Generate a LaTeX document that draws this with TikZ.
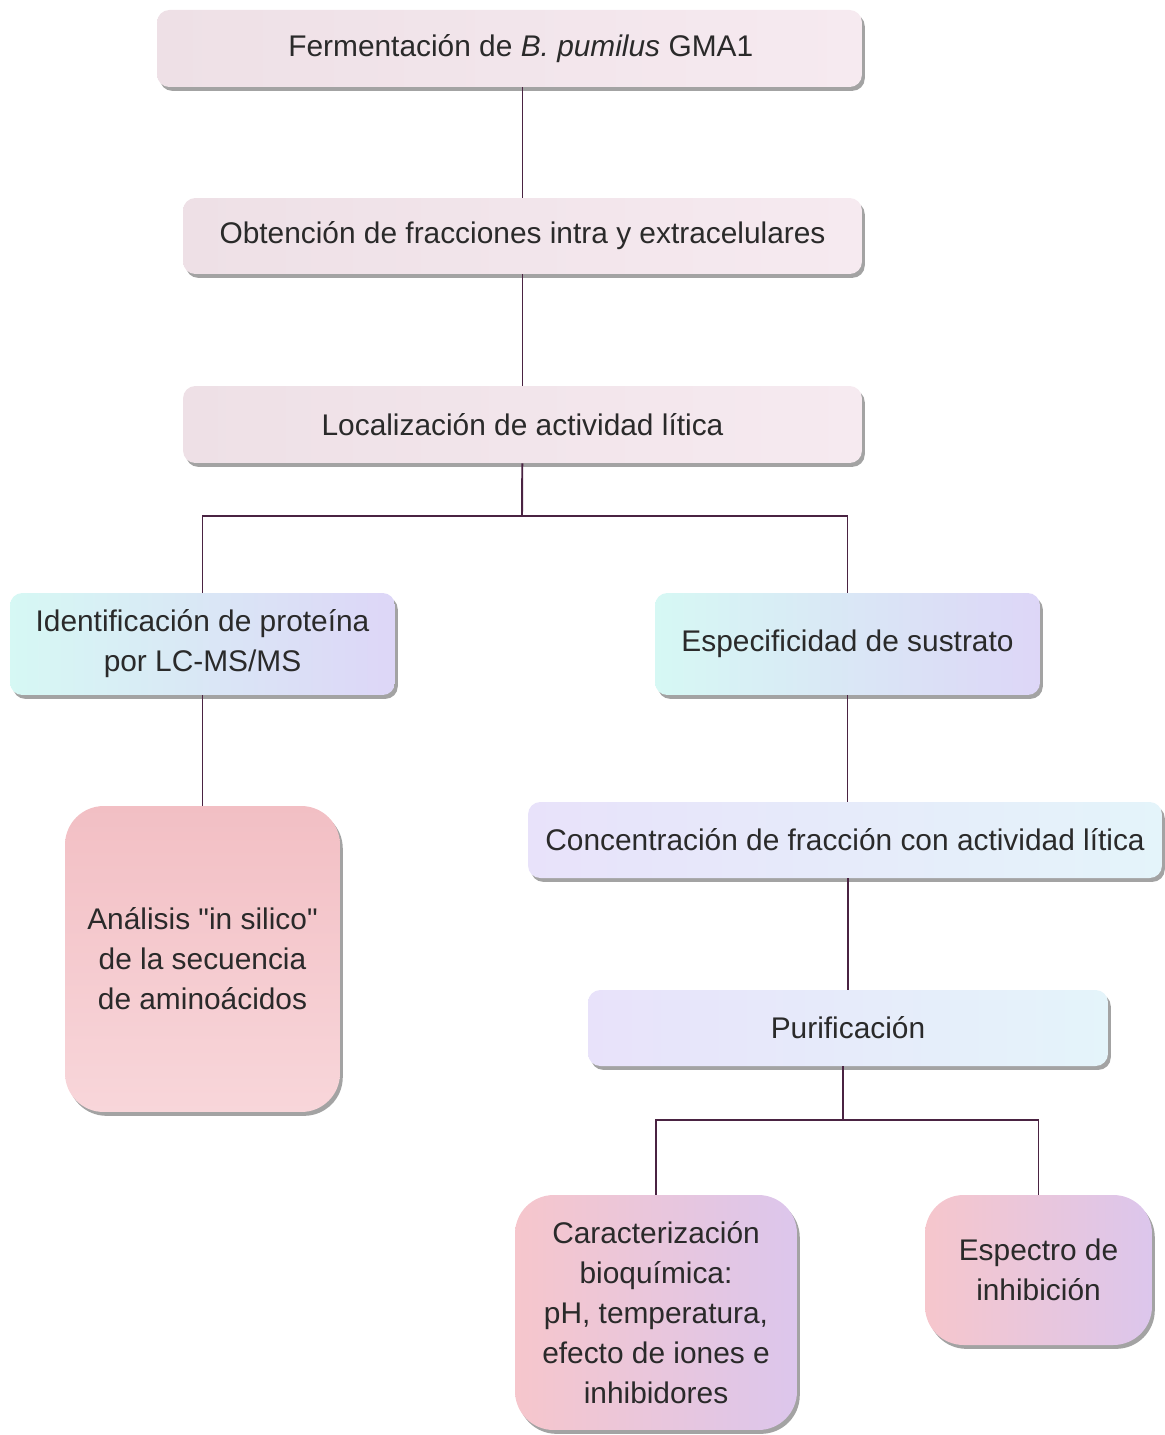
\documentclass[tikz,border=0pt]{standalone}
\usepackage{fontspec}
\setmainfont{Liberation Sans}[Ligatures=TeXOff]
\usepackage{tikz}
\usetikzlibrary{shadows}

\definecolor{txtc}{HTML}{2A2A2A}
\definecolor{linec}{HTML}{4A2342}
\definecolor{rosaA}{HTML}{EEE0E6}
\definecolor{rosaB}{HTML}{F6EAF0}
\definecolor{aqua}{HTML}{D6F8F4}
\definecolor{lila}{HTML}{DDD6F7}
\definecolor{salmon}{HTML}{F2BFC4}
\definecolor{salmonB}{HTML}{F8D6DA}
\definecolor{lilaB}{HTML}{E8E2FA}
\definecolor{pinkB}{HTML}{F7E3F3}
\definecolor{celeste}{HTML}{E4F4FA}
\definecolor{malva}{HTML}{DCC6EC}
\definecolor{rosaC}{HTML}{F6C6CC}

\begin{document}
\begin{tikzpicture}[x=0.02cm,y=-0.02cm,
    box/.style={rounded corners=7pt,align=center,text=txtc,inner sep=0pt,
      font=\fontsize{17}{22.8}\selectfont,
      drop shadow={shadow xshift=1.6pt,shadow yshift=-2.2pt,fill=black!60,opacity=0.6}},
    tall/.style={box,rounded corners=22pt},
    link/.style={draw=linec,line width=1.1pt}]
  \useasboundingbox (0,0) rectangle (1164,1435);

  % main column
  \node[box,left color=rosaA,right color=rosaB,minimum width=14.1cm,minimum height=1.54cm]
    (ferm) at (509.5,48.5) {\hspace*{0.45cm}Fermentación de \textit{B. pumilus} GMA1};
  \node[box,left color=rosaA,right color=rosaB,minimum width=13.58cm,minimum height=1.52cm]
    (obt) at (522.5,236) {Obtención de fracciones intra y extracelulares};
  \node[box,left color=rosaA,right color=rosaB,minimum width=13.58cm,minimum height=1.54cm]
    (loc) at (522.5,424.5) {Localización de actividad lítica};

  % branches
  \node[box,left color=aqua,right color=lila,minimum width=7.7cm,minimum height=2.04cm]
    (ident) at (202.5,644) {Identificación de proteína\\por LC-MS/MS};
  \node[box,left color=aqua,right color=lila,minimum width=7.7cm,minimum height=2.04cm]
    (espec) at (847.5,644) {Especificidad de sustrato};
  \node[tall,top color=salmon,bottom color=salmonB,minimum width=5.5cm,minimum height=6.12cm]
    (anal) at (202.5,959) {Análisis "in silico"\\de la secuencia\\de aminoácidos};
  \node[box,left color=lilaB,middle color=pinkB,right color=celeste,minimum width=12.68cm,minimum height=1.52cm]
    (conc) at (845,840) {Concentración de fracción con actividad lítica};
  \node[box,left color=lilaB,middle color=pinkB,right color=celeste,minimum width=10.4cm,minimum height=1.52cm]
    (purif) at (848,1028) {Purificación};
  \node[tall,shading=axis,shading angle=60,left color=rosaC,right color=malva,minimum width=5.64cm,minimum height=4.7cm]
    (carac) at (656,1312.5) {Caracterización\\bioquímica:\\pH, temperatura,\\efecto de iones e\\inhibidores};
  \node[tall,shading=axis,shading angle=60,left color=rosaC,right color=malva,minimum width=4.54cm,minimum height=3cm]
    (espect) at (1038.5,1270) {Espectro de\\inhibición};

  \coordinate (b1) at (522,516);
  \coordinate (b2) at (843,1120);

  \draw[link] (ferm.south -| obt) -- (obt);
  \draw[link] (obt) -- (loc);
  \draw[link] (loc) -- (b1);
  \draw[link] (ident.north) |- (b1) -| (espec.north);
  \draw[link] (ident) -- (anal);
  \draw[link] (espec.south) -- (espec.south |- conc.north);
  \draw[link] (conc.south -| purif) -- (purif);
  \draw[link] (purif.south -| b2) -- (b2);
  \draw[link] (carac.north) |- (b2) -| (espect.north);
\end{tikzpicture}
\end{document}
